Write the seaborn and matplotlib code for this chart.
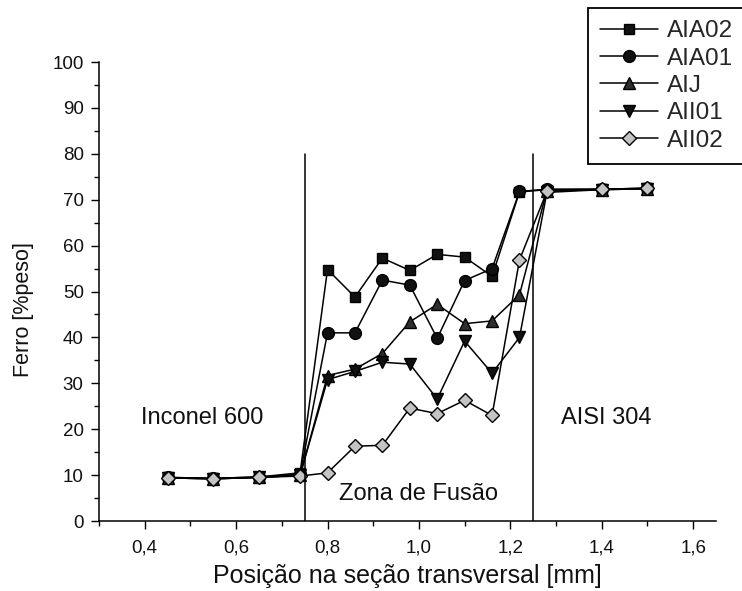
import matplotlib
matplotlib.use("Agg")
import matplotlib.pyplot as plt
from matplotlib.ticker import MultipleLocator, FuncFormatter
import seaborn as sns
import pandas as pd

sns.set_theme(style="white")
plt.rcParams["font.family"] = ["Liberation Sans", "DejaVu Sans"]

# Posições de medição (mm) e teor de ferro (% peso) de cada amostra
posicao = [0.45, 0.55, 0.65, 0.74, 0.80, 0.86, 0.92, 0.98, 1.04, 1.10, 1.16, 1.22, 1.28, 1.40, 1.50]

aia02 = [9.5, 9.3, 9.6, 10.5, 54.8, 48.8, 57.3, 54.6, 58.1, 57.5, 53.3, 71.7, 72.2, 72.3, 72.5]
aia01 = [9.5, 9.3, 9.6, 10.2, 41.0, 41.0, 52.5, 51.4, 39.8, 52.4, 55.0, 71.8, 72.3, 72.3, 72.5]
aij   = [9.4, 9.2, 9.5, 10.0, 31.7, 33.1, 36.5, 43.4, 47.2, 43.0, 43.6, 49.3, 72.0, 72.2, 72.4]
aii01 = [9.4, 9.2, 9.5, 10.0, 30.8, 32.6, 34.6, 34.2, 26.6, 39.2, 32.2, 40.0, 71.6, 72.2, 72.4]
aii02 = [9.4, 9.2, 9.5, 9.8, 10.5, 16.3, 16.5, 24.6, 23.4, 26.3, 23.0, 56.9, 71.8, 72.3, 72.5]

series_names = ["AIA02", "AIA01", "AIJ", "AII01", "AII02"]
series_values = [aia02, aia01, aij, aii01, aii02]

# Limites das regiões da junta
limites_zona = [0.75, 1.25]
rotulos_regiao = ["Inconel 600", "Zona de Fusão", "AISI 304"]

x_ticks = [0.4, 0.6, 0.8, 1.0, 1.2, 1.4, 1.6]
y_ticks = [0, 10, 20, 30, 40, 50, 60, 70, 80, 90, 100]

df = pd.DataFrame(
    [(n, x, y) for n, vals in zip(series_names, series_values) for x, y in zip(posicao, vals)],
    columns=["amostra", "posicao", "ferro"],
)

estilos = {
    "AIA02": dict(marker="s", markersize=7.5, markerfacecolor="#111111"),
    "AIA01": dict(marker="o", markersize=8.5, markerfacecolor="#111111"),
    "AIJ":   dict(marker="^", markersize=9, markerfacecolor="#2e2e2e"),
    "AII01": dict(marker="v", markersize=9, markerfacecolor="#111111"),
    "AII02": dict(marker="D", markersize=7, markerfacecolor="#c4c4c4"),
}

fig = plt.figure(figsize=(7.42, 5.91), dpi=100)
ax = fig.add_axes([0.1334, 0.1184, 0.8316, 0.7766])

for nome in series_names:
    sub = df[df["amostra"] == nome]
    sns.lineplot(
        data=sub, x="posicao", y="ferro", ax=ax, color="black", linewidth=1.1,
        sort=False, estimator=None, label=nome, markeredgecolor="black",
        markeredgewidth=1.0, **estilos[nome],
    )

for xv in limites_zona:
    ax.plot([xv, xv], [0, 80], color="black", linewidth=1.1)

ax.text(0.525, 22.5, rotulos_regiao[0], fontsize=17, ha="center", va="center", color="#111111")
ax.text(1.0, 5.8, rotulos_regiao[1], fontsize=17, ha="center", va="center", color="#111111")
ax.text(1.41, 22.5, rotulos_regiao[2], fontsize=17, ha="center", va="center", color="#111111")

ax.set_xlim(0.3, 1.65)
ax.set_ylim(0, 100)
ax.set_xticks(x_ticks)
ax.set_yticks(y_ticks)
ax.xaxis.set_minor_locator(MultipleLocator(0.1))
ax.yaxis.set_minor_locator(MultipleLocator(5))
ax.xaxis.set_major_formatter(FuncFormatter(lambda v, p: f"{v:.1f}".replace(".", ",")))

ax.tick_params(axis="both", which="major", direction="out", length=6, width=1.0,
               color="black", labelsize=13.5, labelcolor="#111111", pad=5)
ax.tick_params(axis="both", which="minor", direction="out", length=3.5, width=1.0, color="black")
ax.tick_params(axis="x", which="major", pad=7)
ax.tick_params(left=True, bottom=True, which="both")

for side in ["top", "right"]:
    ax.spines[side].set_visible(False)
for side in ["left", "bottom"]:
    ax.spines[side].set_color("black")
    ax.spines[side].set_linewidth(1.1)

ax.set_xlabel("Posição na seção transversal [mm]", fontsize=18, labelpad=6, color="#111111")
ax.set_ylabel("Ferro [%peso]", fontsize=15.5, color="#111111")
ax.yaxis.set_label_coords(-0.105, 0.46)
ax.grid(False)

leg = ax.legend(
    loc="upper right", bbox_to_anchor=(1.004, 1 - 8 / 591), bbox_transform=fig.transFigure,
    borderaxespad=0, frameon=True, fancybox=False, framealpha=1, fontsize=17.5,
    handlelength=2.4, handletextpad=0.35, labelspacing=0.22, borderpad=0.5,
)
leg.get_frame().set_edgecolor("black")
leg.get_frame().set_linewidth(1.3)

fig.savefig("out.png", dpi=100, facecolor="white")
